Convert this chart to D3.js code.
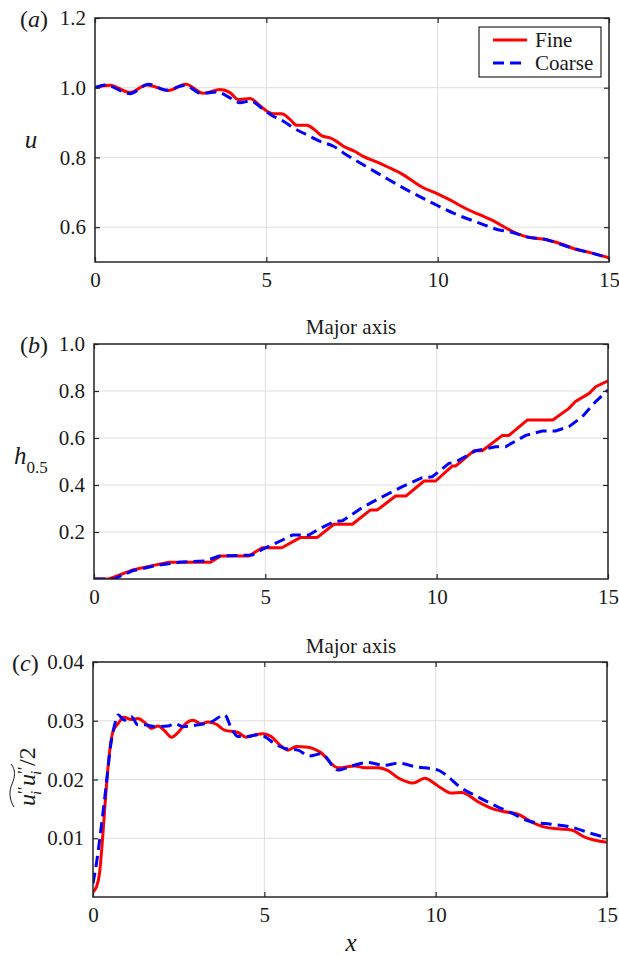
<!DOCTYPE html>
<html>
<head>
<meta charset="utf-8">
<script src="https://cdnjs.cloudflare.com/ajax/libs/d3/7.8.5/d3.min.js"></script>
<style>
  body { margin: 0; background: #fff; }
  svg text { font-family: "Liberation Serif", "Times New Roman", Times, "DejaVu Serif", serif; fill: #1a1a1a; }
</style>
</head>
<body>
<svg id="chart"></svg>
<script>
// values, [x, y]
var xTicks = [0, 5, 10, 15]

var uTicks = [0.6, 0.8, 1.0, 1.2]
var uFine = [[0,1.0],[0.44,1.007],[1.02,0.986],[1.51,1.008],[2.14,0.992],[2.65,1.01],[3.16,0.984],[3.65,0.995],[3.94,0.986],[4.18,0.966],[4.52,0.969],[4.77,0.952],[5.01,0.933],[5.2,0.925],[5.45,0.925],[5.69,0.909],[5.89,0.892],[6.18,0.892],[6.4,0.88],[6.62,0.862],[6.86,0.856],[7.05,0.846],[7.25,0.832],[7.59,0.817],[7.83,0.803],[8.22,0.787],[8.51,0.774],[9.0,0.75],[9.29,0.731],[9.58,0.713],[9.97,0.697],[10.36,0.678],[10.85,0.652],[11.24,0.635],[11.63,0.618],[12.02,0.596],[12.3,0.582],[12.6,0.572],[13.18,0.564],[13.57,0.553],[14.05,0.536],[14.45,0.527],[15,0.512]]
var uCoarse = [[0,1.0],[0.29,1.008],[1.02,0.983],[1.56,1.01],[2.09,0.993],[2.63,1.007],[3.11,0.983],[3.55,0.988],[3.94,0.971],[4.23,0.957],[4.52,0.962],[4.91,0.938],[5.2,0.918],[5.5,0.904],[5.79,0.885],[6.18,0.865],[6.57,0.846],[6.96,0.832],[7.25,0.813],[7.74,0.784],[8.42,0.745],[9.1,0.707],[9.87,0.668],[10.46,0.64],[11.24,0.611],[11.83,0.591],[12.1,0.587],[12.6,0.572],[13.18,0.564],[13.67,0.548],[14.15,0.534],[14.74,0.519],[15,0.51]]

var hTicks = [0.2, 0.4, 0.6, 0.8, 1.0]
var hFine = [[0,0],[0.44,0],[1.12,0.038],[1.7,0.057],[2.19,0.071],[3.4,0.071],[3.7,0.098],[4.52,0.098],[4.91,0.133],[5.48,0.133],[6.03,0.177],[6.52,0.177],[7.0,0.233],[7.54,0.233],[8.07,0.294],[8.27,0.294],[8.8,0.353],[9.1,0.353],[9.63,0.417],[9.97,0.417],[10.46,0.481],[10.56,0.481],[11.09,0.546],[11.33,0.546],[11.92,0.611],[12.11,0.611],[12.65,0.677],[13.39,0.677],[13.86,0.726],[14.05,0.755],[14.45,0.79],[14.64,0.818],[15,0.843]]
var hCoarse = [[0,0],[0.58,0],[1.12,0.035],[1.8,0.057],[2.29,0.067],[2.48,0.071],[3.26,0.077],[3.65,0.098],[4.62,0.102],[4.91,0.126],[5.5,0.166],[5.79,0.187],[6.27,0.187],[6.57,0.213],[7.0,0.244],[7.25,0.248],[7.83,0.304],[8.32,0.343],[9.0,0.393],[9.58,0.431],[9.87,0.435],[10.36,0.492],[10.56,0.498],[11.14,0.546],[11.72,0.563],[12.01,0.563],[12.6,0.611],[13.08,0.63],[13.47,0.63],[13.86,0.648],[14.25,0.691],[14.64,0.755],[15,0.804]]

var kTicks = [0.01, 0.02, 0.03, 0.04]
var kFine = [[0,0.0009],[0.1,0.0017],[0.19,0.004],[0.29,0.0108],[0.39,0.0188],[0.49,0.025],[0.58,0.0281],[0.73,0.0295],[0.9,0.0306],[1.12,0.0302],[1.31,0.0304],[1.51,0.0297],[1.7,0.0287],[1.9,0.0291],[2.09,0.0283],[2.29,0.0272],[2.48,0.028],[2.68,0.0294],[2.92,0.0301],[3.16,0.0295],[3.36,0.0298],[3.6,0.0294],[3.84,0.0284],[4.23,0.028],[4.47,0.0272],[4.72,0.0276],[4.96,0.0278],[5.2,0.0273],[5.45,0.0259],[5.69,0.025],[5.93,0.0256],[6.27,0.0255],[6.62,0.0247],[7.15,0.022],[7.64,0.0223],[7.93,0.022],[8.32,0.022],[8.61,0.0215],[8.9,0.0203],[9.34,0.0194],[9.68,0.0202],[9.97,0.0193],[10.17,0.0185],[10.46,0.0177],[10.75,0.0178],[11.24,0.0162],[11.63,0.0151],[12.02,0.0145],[12.4,0.0141],[12.79,0.0128],[13.18,0.0119],[13.57,0.0116],[13.96,0.0114],[14.35,0.0102],[15,0.0093]]
var kCoarse = [[0,0.0023],[0.1,0.0057],[0.24,0.0119],[0.39,0.0193],[0.52,0.026],[0.63,0.0293],[0.73,0.031],[0.92,0.0301],[1.12,0.0307],[1.31,0.0293],[1.51,0.0293],[1.8,0.029],[2.19,0.0291],[2.38,0.0295],[2.63,0.029],[3.06,0.0293],[3.45,0.0298],[3.84,0.031],[4.04,0.0287],[4.23,0.0273],[4.47,0.0273],[4.82,0.0276],[5.01,0.0273],[5.3,0.0261],[5.59,0.0253],[5.98,0.025],[6.32,0.024],[6.66,0.0244],[7.15,0.0216],[7.54,0.0223],[8.03,0.0229],[8.51,0.0224],[8.9,0.0228],[9.39,0.0222],[10.07,0.0216],[10.36,0.0205],[10.65,0.019],[11.24,0.017],[11.72,0.0156],[12.21,0.0143],[12.79,0.0128],[13.37,0.0124],[13.96,0.0119],[14.54,0.0108],[15,0.0101]]

var W = 619, H = 955
var serif = '"Liberation Serif", "Times New Roman", Times, "DejaVu Serif", serif'

var svg = d3.select('#chart')
    .attr('width', W)
    .attr('height', H)
    .attr('font-family', serif)

function panel(opt) {
  var x = d3.scaleLinear().domain([0, 15]).range([opt.left, opt.right])
  var y = d3.scaleLinear().domain(opt.yDomain).range([opt.bottom, opt.top])
  var g = svg.append('g')

  // grid
  g.selectAll('.gx').data(xTicks).enter().append('line')
      .attr('x1', function(d) { return x(d) }).attr('x2', function(d) { return x(d) })
      .attr('y1', opt.top).attr('y2', opt.bottom)
      .attr('stroke', '#dedede').attr('stroke-width', 1)
  g.selectAll('.gy').data(opt.yTicks).enter().append('line')
      .attr('x1', opt.left).attr('x2', opt.right)
      .attr('y1', function(d) { return y(d) }).attr('y2', function(d) { return y(d) })
      .attr('stroke', '#dedede').attr('stroke-width', 1)

  // lines
  var id = 'clip' + opt.name
  svg.append('clipPath').attr('id', id).append('rect')
      .attr('x', opt.left).attr('y', opt.top)
      .attr('width', opt.right - opt.left).attr('height', opt.bottom - opt.top)

  var line = d3.line()
      .x(function(d) { return x(d[0]) })
      .y(function(d) { return y(d[1]) })
      .curve(opt.curve)

  var lines = g.append('g').attr('clip-path', 'url(#' + id + ')')
  lines.append('path').datum(opt.fine)
      .attr('d', line).attr('fill', 'none')
      .attr('stroke', '#ff0000').attr('stroke-width', 3)
      .attr('stroke-linejoin', 'round')
  lines.append('path').datum(opt.coarse)
      .attr('d', line).attr('fill', 'none')
      .attr('stroke', '#0000ff').attr('stroke-width', 3)
      .attr('stroke-dasharray', '11,6')

  // axes: ticks inward on all four sides, labels left and bottom
  var tk = 5
  g.append('g').attr('transform', 'translate(0,' + opt.bottom + ')')
      .call(d3.axisBottom(x).tickValues(xTicks).tickSizeInner(-tk).tickSizeOuter(0).tickPadding(10))
  g.append('g').attr('transform', 'translate(0,' + opt.top + ')')
      .call(d3.axisTop(x).tickValues(xTicks).tickSizeInner(-tk).tickSizeOuter(0).tickFormat(''))
  g.append('g').attr('transform', 'translate(' + opt.left + ',0)')
      .call(d3.axisLeft(y).tickValues(opt.yTicks).tickSizeInner(-tk).tickSizeOuter(0)
        .tickPadding(9).tickFormat(d3.format(opt.fmt)))
  g.append('g').attr('transform', 'translate(' + opt.right + ',0)')
      .call(d3.axisRight(y).tickValues(opt.yTicks).tickSizeInner(-tk).tickSizeOuter(0).tickFormat(''))

  g.selectAll('.domain').remove()
  g.selectAll('g').attr('font-family', serif).attr('font-size', 21)
  g.selectAll('.tick line').attr('stroke', '#262626').attr('stroke-width', 1.2)
  g.selectAll('.tick text').attr('fill', '#1a1a1a')

  g.append('rect')
      .attr('x', opt.left).attr('y', opt.top)
      .attr('width', opt.right - opt.left).attr('height', opt.bottom - opt.top)
      .attr('fill', 'none').attr('stroke', '#262626').attr('stroke-width', 1.5)

  return g
}

var pa = panel({ name: 'a', left: 95, right: 609, top: 18, bottom: 262,
  yDomain: [0.5, 1.2], yTicks: uTicks, fmt: '.1f', fine: uFine, coarse: uCoarse,
  curve: d3.curveMonotoneX })
var pb = panel({ name: 'b', left: 94, right: 608, top: 344, bottom: 579,
  yDomain: [0, 1], yTicks: hTicks, fmt: '.1f', fine: hFine, coarse: hCoarse,
  curve: d3.curveLinear })
var pc = panel({ name: 'c', left: 93, right: 607, top: 662, bottom: 897,
  yDomain: [0, 0.04], yTicks: kTicks, fmt: '.2f', fine: kFine, coarse: kCoarse,
  curve: d3.curveMonotoneX })

// panel letters
function letter(xp, yp, s) {
  var t = svg.append('text').attr('x', xp).attr('y', yp).attr('font-size', 24)
  t.append('tspan').text('(')
  t.append('tspan').attr('font-style', 'italic').text(s)
  t.append('tspan').text(')')
}
letter(20, 27, 'a')
letter(20, 353, 'b')
letter(12, 671, 'c')

// titles
svg.append('text').attr('x', 351).attr('y', 334).attr('text-anchor', 'middle')
    .attr('font-size', 21).text('Major axis')
svg.append('text').attr('x', 351).attr('y', 653).attr('text-anchor', 'middle')
    .attr('font-size', 21).text('Major axis')

// y labels
svg.append('text').attr('x', 31).attr('y', 148).attr('text-anchor', 'middle')
    .attr('font-size', 25).attr('font-style', 'italic').text('u')

var hl = svg.append('text').attr('x', 14).attr('y', 464).attr('font-size', 25)
hl.append('tspan').attr('font-style', 'italic').text('h')
hl.append('tspan').attr('dy', 9).attr('font-size', 17).text('0.5')

// rotated tke label
var kl = svg.append('g').attr('transform', 'translate(35,775) rotate(-90)')
function ku(xp) {
  kl.append('text').attr('x', xp).attr('y', 0).attr('font-size', 24)
      .attr('font-style', 'italic').text('u')
  kl.append('text').attr('x', xp + 11).attr('y', -6).attr('font-size', 17)
      .attr('font-style', 'italic').text('\u2032\u2032')
  kl.append('text').attr('x', xp + 11).attr('y', 6).attr('font-size', 15)
      .attr('font-style', 'italic').text('i')
}
ku(-31)
ku(-11)
kl.append('text').attr('x', 9).attr('y', 0).attr('font-size', 24).text('/2')
kl.append('path')
    .attr('d', 'M-32,-21 C-24,-26 -16,-26 -9,-23 C-2,-20 5,-19 11,-24')
    .attr('fill', 'none').attr('stroke', '#1a1a1a').attr('stroke-width', 1)

// x label
svg.append('text').attr('x', 351).attr('y', 951).attr('text-anchor', 'middle')
    .attr('font-size', 25).attr('font-style', 'italic').text('x')

// legend
var lg = svg.append('g')
lg.append('rect').attr('x', 479).attr('y', 27).attr('width', 122).attr('height', 50)
    .attr('fill', '#fff').attr('stroke', '#262626').attr('stroke-width', 1.2)
lg.append('line').attr('x1', 493).attr('x2', 527).attr('y1', 40).attr('y2', 40)
    .attr('stroke', '#ff0000').attr('stroke-width', 3)
lg.append('line').attr('x1', 493).attr('x2', 527).attr('y1', 63).attr('y2', 63)
    .attr('stroke', '#0000ff').attr('stroke-width', 3).attr('stroke-dasharray', '11,6')
lg.append('text').attr('x', 535).attr('y', 47).attr('font-size', 21).text('Fine')
lg.append('text').attr('x', 535).attr('y', 70).attr('font-size', 21).text('Coarse')
</script>
</body>
</html>
